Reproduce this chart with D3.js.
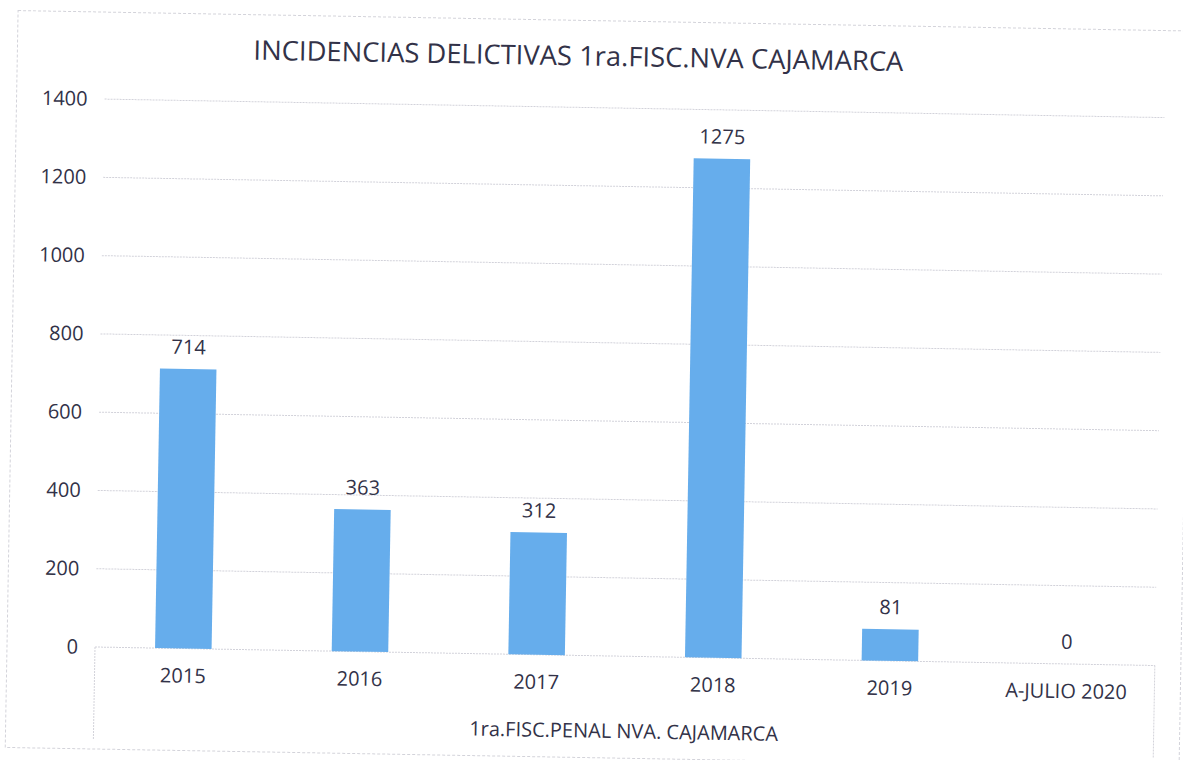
<script src="https://d3js.org/d3.v7.min.js"></script>

<style>
    body { margin: 0; background: #fff; }
    text { font-family: "Open Sans", "Noto Sans", sans-serif; fill: #323248; }
</style>

<svg id="chart" width=1183 height=760></svg>

<script>
    var title = "INCIDENCIAS DELICTIVAS 1ra.FISC.NVA CAJAMARCA";
    var groupLabel = "1ra.FISC.PENAL NVA. CAJAMARCA";
    var categories = ["2015", "2016", "2017", "2018", "2019", "A-JULIO 2020"];
    var values = [714, 363, 312, 1275, 81, 0];
    var yTicks = [0, 200, 400, 600, 800, 1000, 1200, 1400];

    var data = categories.map((c, i) => ({cat: c, value: values[i]}));

    var margin = ({top: 99, right: 28, bottom: 113, left: 95});
    var width = 1183, height = 760;
    var x0 = margin.left, x1 = width - margin.right, baseY = height - margin.bottom;

    // the scan is tilted about one degree, so the whole chart is turned around the origin corner
    var svg = d3.select('#chart');
    var g = svg.append("g")
        .attr("transform", `rotate(1, ${x0}, ${baseY})`);

    var x = d3.scaleBand()
        .domain(categories)
        .range([x0, x1])
        .paddingInner(0.68)
        .paddingOuter(0.34);
    var y = d3.scaleLinear()
        .domain([0, d3.max(yTicks)])
        .range([baseY, margin.top]);

    // chart area border
    g.append("rect")
        .attr("x", 7).attr("y", 12)
        .attr("width", 1174).attr("height", 737)
        .attr("fill", "none")
        .attr("stroke", "#d3d3da")
        .attr("stroke-dasharray", "3,2");

    // gridlines
    g.append("g")
        .selectAll("line")
        .data(yTicks)
        .join("line")
        .attr("x1", x0).attr("x2", x1)
        .attr("y1", d => y(d)).attr("y2", d => y(d))
        .attr("stroke", "#d2d2da")
        .attr("stroke-dasharray", "2,1");

    // category box sides
    g.append("g")
        .selectAll("line")
        .data([x0, x1])
        .join("line")
        .attr("x1", d => d).attr("x2", d => d)
        .attr("y1", baseY).attr("y2", baseY + 92)
        .attr("stroke", "#d3d3da")
        .attr("stroke-dasharray", "2,1");

    g.append("g")
        .selectAll("rect")
        .data(data)
        .join("rect")
        .attr("x", d => x(d.cat))
        .attr("y", d => y(d.value))
        .attr("width", x.bandwidth())
        .attr("height", d => y(0) - y(d.value))
        .attr("fill", "#66adec");

    // value labels
    g.append("g")
        .selectAll("text")
        .data(data)
        .join("text")
        .attr("x", d => x(d.cat) + x.bandwidth() / 2)
        .attr("y", d => y(d.value) - 15)
        .attr("text-anchor", "middle")
        .attr("font-size", 20)
        .text(d => d.value);

    var yAxis = gg => gg
        .attr("transform", `translate(${x0},0)`)
        .call(d3.axisLeft(y).tickValues(yTicks).tickFormat(d3.format("d")).tickSize(0).tickPadding(17))
        .call(gg => gg.select(".domain").remove())
        .call(gg => gg.selectAll("text").attr("font-size", 20).attr("font-family", null).attr("fill", null));
    var xAxis = gg => gg
        .attr("transform", `translate(0,${baseY})`)
        .call(d3.axisBottom(x).tickSize(0).tickPadding(20))
        .call(gg => gg.select(".domain").remove())
        .call(gg => gg.selectAll("text").attr("font-size", 20).attr("font-family", null).attr("fill", null));

    g.append("g").call(yAxis);
    g.append("g").call(xAxis);

    g.append("text")
        .attr("x", (x0 + x1) / 2)
        .attr("y", baseY + 75)
        .attr("dy", "0.35em")
        .attr("text-anchor", "middle")
        .attr("font-size", 20)
        .text(groupLabel);

    g.append("text")
        .attr("x", 568)
        .attr("y", 57)
        .attr("text-anchor", "middle")
        .attr("font-size", 27)
        .attr("textLength", 650)
        .attr("lengthAdjust", "spacingAndGlyphs")
        .attr("fill", "#3c3c5a")
        .text(title);
</script>
